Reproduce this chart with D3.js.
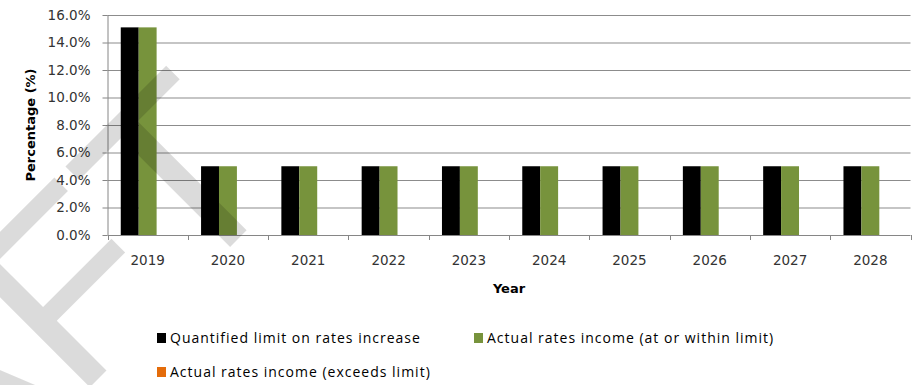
<!DOCTYPE html>
<html>
<head>
<meta charset="utf-8">
<script src="https://cdn.jsdelivr.net/npm/d3@7"></script>
<style>
  html, body { margin: 0; padding: 0; background: #fff; }
  svg { display: block; }
</style>
</head>
<body>
<svg id="chart" width="914" height="385"></svg>
<script>
// Rates increase limit vs actual rates income, by year
const years = ["2019", "2020", "2021", "2022", "2023", "2024", "2025", "2026", "2027", "2028"];
const limitValues    = [15.1, 5.0, 5.0, 5.0, 5.0, 5.0, 5.0, 5.0, 5.0, 5.0];
const withinValues   = [15.1, 5.0, 5.0, 5.0, 5.0, 5.0, 5.0, 5.0, 5.0, 5.0];
const exceedsValues  = [0, 0, 0, 0, 0, 0, 0, 0, 0, 0];
const seriesNames = [
  "Quantified limit on rates increase",
  "Actual rates income (at or within limit)",
  "Actual rates income (exceeds limit)"
];
const yTickValues = [0, 2, 4, 6, 8, 10, 12, 14, 16];
const xTitle = "Year";
const yTitle = "Percentage (%)";
const watermarkText = "DRAFT";

const seriesColors = ["#000000", "#77933c", "#e46c0a"];
const seriesValues = [limitValues, withinValues, exceedsValues];

const svg = d3.select("#chart");
const plot = { left: 107.5, right: 910.5, top: 15, bottom: 235 };

const x0 = d3.scaleBand().domain(years).range([plot.left, plot.right]).padding(0);
const x1 = d3.scaleBand().domain(d3.range(seriesNames.length))
  .range([0, x0.bandwidth()]).paddingInner(0).paddingOuter(0.74);
const y = d3.scaleLinear().domain([0, 16]).range([plot.bottom, plot.top]);

const axisColor = "#868686";
const labelFont = "'DejaVu Sans', Verdana, sans-serif";

// horizontal gridlines
svg.append("g")
  .attr("transform", `translate(${plot.left},0)`)
  .call(d3.axisLeft(y).tickValues(yTickValues.filter(d => d > 0))
    .tickSize(-(plot.right - plot.left)).tickFormat(""))
  .call(g => g.select(".domain").remove())
  .call(g => g.selectAll("line").attr("stroke", "#8c8c8c").attr("stroke-width", 1.2));

// bars
const groups = svg.append("g").selectAll("g")
  .data(years)
  .join("g")
  .attr("transform", d => `translate(${x0(d)},0)`);

groups.selectAll("rect")
  .data((d, i) => seriesValues.map((vals, s) => ({ s, v: vals[i] })))
  .join("rect")
  .attr("x", d => x1(d.s))
  .attr("width", x1.bandwidth())
  .attr("y", d => y(d.v))
  .attr("height", d => y(0) - y(d.v))
  .attr("fill", d => seriesColors[d.s]);

// y axis
svg.append("g")
  .attr("transform", `translate(${plot.left},0)`)
  .call(d3.axisLeft(y).tickValues(yTickValues).tickSize(5).tickPadding(12)
    .tickFormat(d => d.toFixed(1) + "%"))
  .call(g => g.select(".domain").attr("stroke", axisColor).attr("d", `M0.5,${plot.top}V${plot.bottom}`))
  .call(g => g.selectAll(".tick line").attr("stroke", axisColor))
  .call(g => g.selectAll("text").attr("fill", "#333").style("font", `13.5px ${labelFont}`));

// x axis: labels at category centres, tick marks at category boundaries
const xAxis = svg.append("g")
  .attr("transform", `translate(0,${plot.bottom})`)
  .call(d3.axisBottom(x0).tickSize(0).tickPadding(20))
  .call(g => g.select(".domain").attr("stroke", axisColor).attr("d", `M${plot.left},0.5H${plot.right}`))
  .call(g => g.selectAll("text").attr("fill", "#333").style("font", `13.5px ${labelFont}`));

const boundaries = years.map(d => x0(d)).concat([x0.range()[1]]);
xAxis.append("g").selectAll("line")
  .data(boundaries)
  .join("line")
  .attr("x1", d => Math.round(d) + 0.5).attr("x2", d => Math.round(d) + 0.5)
  .attr("y1", 0).attr("y2", 5)
  .attr("stroke", axisColor);

// axis titles
svg.append("text")
  .attr("x", (plot.left + plot.right) / 2)
  .attr("y", 293)
  .attr("text-anchor", "middle")
  .attr("fill", "#000")
  .style("font", `bold 13px ${labelFont}`)
  .text(xTitle);

svg.append("text")
  .attr("transform", `translate(35,${(plot.top + plot.bottom) / 2}) rotate(-90)`)
  .attr("text-anchor", "middle")
  .attr("fill", "#000")
  .style("font", `bold 13px ${labelFont}`)
  .text(yTitle);

// legend
const legendItems = [
  { name: seriesNames[0], color: seriesColors[0], x: 157, y: 338 },
  { name: seriesNames[1], color: seriesColors[1], x: 474, y: 338 },
  { name: seriesNames[2], color: seriesColors[2], x: 157, y: 372 }
];
const legend = svg.append("g").selectAll("g")
  .data(legendItems)
  .join("g")
  .attr("transform", d => `translate(${d.x},${d.y})`);
legend.append("rect")
  .attr("x", 0).attr("y", -5).attr("width", 9).attr("height", 10)
  .attr("fill", d => d.color);
legend.append("text")
  .attr("x", 13).attr("y", 5)
  .attr("fill", "#000")
  .style("font", "14px 'Open Sans', sans-serif")
  .style("letter-spacing", "1px")
  .text(d => d.name);

// diagonal DRAFT watermark laid over the chart
const wm = svg.append("text")
  .attr("fill", "#000")
  .attr("fill-opacity", 0.14)
  .style("font", "252px 'Liberation Sans', Arial, sans-serif")
  .text(watermarkText);
const tStart = wm.node().getStartPositionOfChar(watermarkText.length - 1).x;
const tEnd = wm.node().getEndPositionOfChar(watermarkText.length - 1).x;
wm.attr("transform", `translate(238.5,238.5) rotate(-45) translate(${-(tStart + tEnd) / 2},0)`);
</script>
</body>
</html>
